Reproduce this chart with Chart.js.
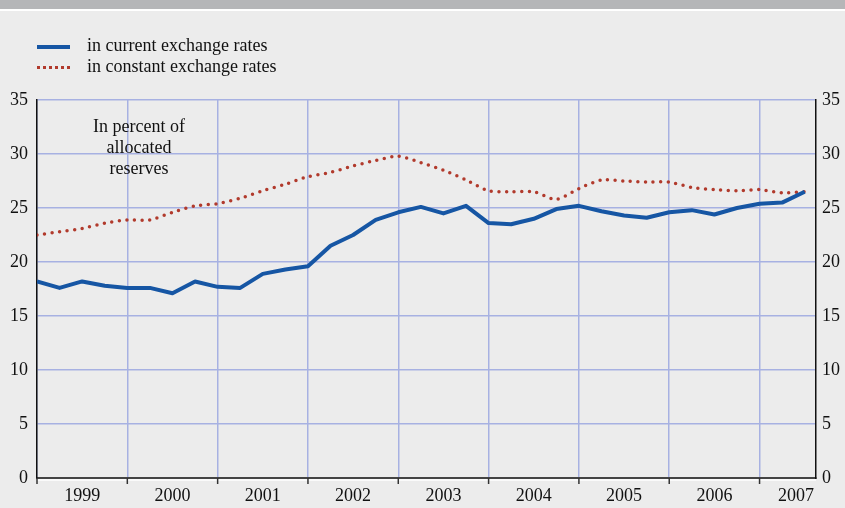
<!DOCTYPE html>
<html>
<head>
<meta charset="utf-8">
<script src="https://cdn.jsdelivr.net/npm/chart.js@4"></script>
<style>
  body { margin: 0; background: #ececec; font-family: "Liberation Serif", serif; }
  #wrap { position: relative; width: 845px; height: 508px; overflow: hidden; }
  #band { position: absolute; left: 0; top: 0; width: 845px; height: 9px; background: #b5b6b8; border-bottom: 2px solid #fff; }
  .leg { position: absolute; left: 37px; font-size: 18px; color: #111; line-height: 20px; }
  .leg span.mark { display: inline-block; width: 33px; vertical-align: middle; margin-right: 17px; }
  #note { position: absolute; left: 78px; top: 116px; width: 122px; text-align: center; font-size: 18px; line-height: 21px; color: #111; }
  canvas { position: absolute; left: 0; top: 0; }
</style>
</head>
<body>
<div id="wrap">
  <canvas id="myChart" width="845" height="508"></canvas>
  <div id="band"></div>
  <div class="leg" style="top:35px"><span class="mark" style="border-top:4px solid #1656a4"></span>in current exchange rates</div>
  <div class="leg" style="top:56px"><span class="mark" style="border-top:3px dotted #b13a2c"></span>in constant exchange rates</div>
  <div id="note">In percent of<br>allocated<br>reserves</div>
</div>
<script>
const years = ['1999', '2000', '2001', '2002', '2003', '2004', '2005', '2006', '2007'];
const quarters = [];
years.forEach((y) => ['Q1', 'Q2', 'Q3', 'Q4'].forEach((q) => quarters.push(y + q)));
quarters.length = 35; // data runs to 2007Q3

const current = [
  18.2, 17.6, 18.2, 17.8,
  17.6, 17.6, 17.1, 18.2,
  17.7, 17.6, 18.9, 19.3,
  19.6, 21.5, 22.5, 23.9,
  24.6, 25.1, 24.5, 25.2,
  23.6, 23.5, 24.0, 24.9,
  25.2, 24.7, 24.3, 24.1,
  24.6, 24.8, 24.4, 25.0,
  25.4, 25.5, 26.5,
];
const constant = [
  22.5, 22.8, 23.1, 23.6,
  23.9, 23.9, 24.6, 25.2,
  25.4, 25.9, 26.6, 27.2,
  27.9, 28.3, 28.9, 29.4,
  29.8, 29.2, 28.5, 27.6,
  26.6, 26.5, 26.5, 25.8,
  26.8, 27.6, 27.5, 27.4,
  27.4, 26.9, 26.7, 26.6,
  26.7, 26.4, 26.5,
];
const yTicks = [0, 5, 10, 15, 20, 25, 30, 35];

const toPoints = (arr) => arr.map((v, i) => ({ x: i, y: v }));

const tickFont = { family: 'Liberation Serif', size: 18 };
const gridColor = '#a7b1e2';

// year labels sit between the yearly grid lines
const yearLabels = {
  id: 'yearLabels',
  afterDraw(chart) {
    const { ctx, chartArea } = chart;
    const x = chart.scales.x;
    ctx.save();
    // white line under the axis, then the dark year ticks
    ctx.strokeStyle = '#fff';
    ctx.lineWidth = 1.5;
    ctx.beginPath();
    ctx.moveTo(chartArea.left, chartArea.bottom + 2);
    ctx.lineTo(chartArea.right, chartArea.bottom + 2);
    ctx.stroke();
    ctx.strokeStyle = '#333';
    ctx.lineWidth = 1.5;
    years.forEach((y, i) => {
      const px = x.getPixelForValue(i * 4);
      ctx.beginPath();
      ctx.moveTo(px, chartArea.bottom);
      ctx.lineTo(px, chartArea.bottom + 6);
      ctx.stroke();
    });
    ctx.fillStyle = '#111';
    ctx.font = '18px "Liberation Serif"';
    ctx.textBaseline = 'middle';
    years.forEach((y, i) => {
      const start = i * 4;
      const end = start + 4;
      if (end <= x.max) {
        ctx.textAlign = 'center';
        ctx.fillText(y, x.getPixelForValue(start + 2), chartArea.bottom + 18);
      } else {
        ctx.textAlign = 'right';
        ctx.fillText(y, chartArea.right - 2, chartArea.bottom + 18);
      }
    });
    ctx.restore();
  },
};

const ctx = document.getElementById('myChart').getContext('2d');
new Chart(ctx, {
  type: 'line',
  data: {
    labels: quarters,
    datasets: [
      {
        label: 'in current exchange rates',
        data: toPoints(current),
        borderColor: '#1656a4',
        borderWidth: 4,
        pointRadius: 0,
        tension: 0,
        borderJoinStyle: 'round',
      },
      {
        label: 'in constant exchange rates',
        data: toPoints(constant),
        borderColor: '#b13a2c',
        borderWidth: 3.5,
        borderDash: [0, 7.6],
        borderCapStyle: 'round',
        pointRadius: 0,
        tension: 0.25,
      },
    ],
  },
  options: {
    responsive: false,
    animation: false,
    layout: { padding: { top: 100, left: 0, right: 0, bottom: 0 } },
    plugins: { legend: { display: false }, tooltip: { enabled: false } },
    scales: {
      x: {
        type: 'linear',
        min: 0,
        max: 34.5,
        ticks: { stepSize: 4, includeBounds: false, callback: () => '', font: tickFont },
        grid: { color: gridColor, lineWidth: 1.5, drawTicks: false },
        border: { color: '#444', width: 2 },
        afterFit: (scale) => { scale.height = 30; },
      },
      y: {
        position: 'left',
        min: 0,
        max: 35,
        afterBuildTicks: (scale) => { scale.ticks = yTicks.map((v) => ({ value: v })); },
        ticks: { font: tickFont, color: '#111', padding: 9 },
        grid: { color: gridColor, lineWidth: 1.5, drawTicks: false },
        border: { color: '#111', width: 1.5 },
        afterFit: (scale) => { scale.width = 37; },
      },
      y2: {
        position: 'right',
        min: 0,
        max: 35,
        afterBuildTicks: (scale) => { scale.ticks = yTicks.map((v) => ({ value: v })); },
        ticks: { font: tickFont, color: '#111', padding: 6 },
        grid: { drawOnChartArea: false, drawTicks: false },
        border: { color: '#111', width: 1.5 },
        afterFit: (scale) => { scale.width = 29; },
      },
    },
  },
  plugins: [yearLabels],
});
</script>
</body>
</html>
